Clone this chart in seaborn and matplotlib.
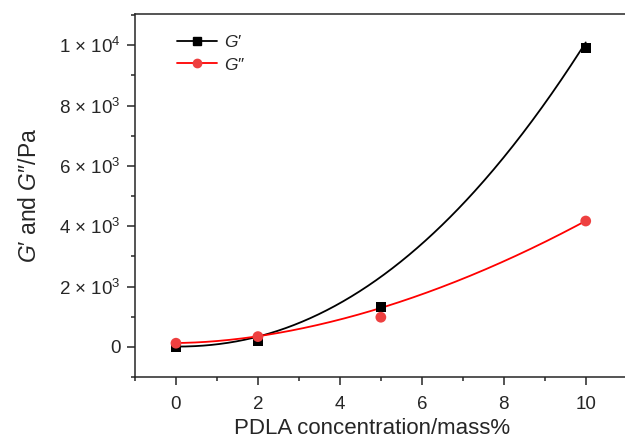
import numpy as np
import pandas as pd
import matplotlib
matplotlib.use("Agg")
import matplotlib.pyplot as plt
from matplotlib.lines import Line2D
from matplotlib.ticker import MultipleLocator, FixedLocator
import seaborn as sns

conc = [0, 2, 5, 10]
g_storage = [0, 210, 1315, 9900]    # G'
g_loss = [122, 341, 983, 4172]      # G''

# points read along the fitted trend curves drawn in the reference
fit_storage_x = [0, 2, 2.8, 3.5, 4.56, 5.45, 7.41, 8.63, 10]
fit_storage_y = [10, 255, 596, 1003, 1778, 2700, 5530, 7626, 9880]
fit_loss_x = [0, 2, 3.0, 4.15, 5.45, 7.9, 10]
fit_loss_y = [130, 341, 596, 983, 1470, 2772, 4180]

ytick_vals = [0, 2000, 4000, 6000, 8000, 10000]
ytick_labels = ["0", "2 × 10$^{3}$", "4 × 10$^{3}$", "6 × 10$^{3}$",
                "8 × 10$^{3}$", "1 × 10$^{4}$"]
legend_labels = ["$G$′", "$G$″"]

sns.set_style("ticks")
plt.rcParams["font.family"] = ["Liberation Sans", "DejaVu Sans"]
plt.rcParams["mathtext.fontset"] = "custom"
plt.rcParams["mathtext.rm"] = "Liberation Sans"
plt.rcParams["mathtext.it"] = "Liberation Sans:italic"


def fit_power(x, y):
    """least squares fit of the trend y = c + a*x**b, with c fixed at the x=0 value"""
    x = np.asarray(x, float); y = np.asarray(y, float)
    c = y[x == 0][0]
    best = None
    for b in np.linspace(1.0, 4.0, 3001):
        f = x ** b
        a = np.sum((y - c) * f) / np.sum(f * f)
        r = np.sum((c + a * f - y) ** 2)
        if best is None or r < best[0]:
            best = (r, c, a, b)
    return best[1:]


xs = np.linspace(0, 10, 300)
c1, a1, b1 = fit_power(fit_storage_x, fit_storage_y)
c2, a2, b2 = fit_power(fit_loss_x, fit_loss_y)
fit1 = pd.DataFrame({"x": xs, "y": c1 + a1 * xs ** b1})
fit2 = pd.DataFrame({"x": xs, "y": c2 + a2 * xs ** b2})

fig = plt.figure(figsize=(6.25, 4.41), dpi=100)
ax = fig.add_axes([0.216, 0.145, 0.79, 0.823])

black = "#000000"
red_line = "#FF0000"
red_mark = "#EE4040"

sns.lineplot(data=fit1, x="x", y="y", color=black, lw=1.3, ax=ax, legend=False)
sns.lineplot(data=fit2, x="x", y="y", color=red_line, lw=1.3, ax=ax, legend=False)
sns.scatterplot(x=conc, y=g_storage, marker="s", s=55, color=black, edgecolor="none", ax=ax, zorder=3)
sns.scatterplot(x=conc, y=g_loss, marker="o", s=60, color=red_mark, edgecolor="none", ax=ax, zorder=3)

ax.set_xlim(-1, 11.05)
ax.set_ylim(-1000, 11030)
ax.xaxis.set_major_locator(MultipleLocator(2))
ax.xaxis.set_minor_locator(MultipleLocator(1))
ax.yaxis.set_major_locator(FixedLocator(ytick_vals))
ax.set_yticklabels(ytick_labels)
ax.yaxis.set_minor_locator(MultipleLocator(1000))
ax.tick_params(axis="both", which="major", direction="out", length=5.5, width=1.1,
               labelsize=13.5)
ax.tick_params(axis="y", which="major", pad=5)
ax.tick_params(axis="x", which="major", pad=8)
ax.tick_params(axis="both", which="minor", direction="out", length=2.6, width=1.1)
ax.tick_params(top=False, right=False)
for sp in ["left", "bottom", "top"]:
    ax.spines[sp].set_linewidth(1.1)
ax.spines["right"].set_visible(False)

ax.set_xlabel("PDLA concentration/mass%", fontsize=16)
ax.set_ylabel("$G$′ and $G$″/Pa", fontsize=16.5)
ax.xaxis.set_label_coords(0.48, -0.158)
ax.xaxis.label.set_va("baseline")
ax.yaxis.set_label_coords(-0.19, 0.5)

handles = [Line2D([], [], color=black, lw=1.3, marker="s", markersize=5.5),
           Line2D([], [], color=red_line, lw=1.3, marker="o", markersize=6,
                  markerfacecolor=red_mark, markeredgecolor=red_mark)]
ax.legend(handles, legend_labels, loc="upper left", bbox_to_anchor=(0.085, 0.944),
          borderaxespad=0, borderpad=0, frameon=False, fontsize=12.5,
          handlelength=2.3, handletextpad=0.4, labelspacing=0.35)

fig.savefig("out.png", dpi=100)
